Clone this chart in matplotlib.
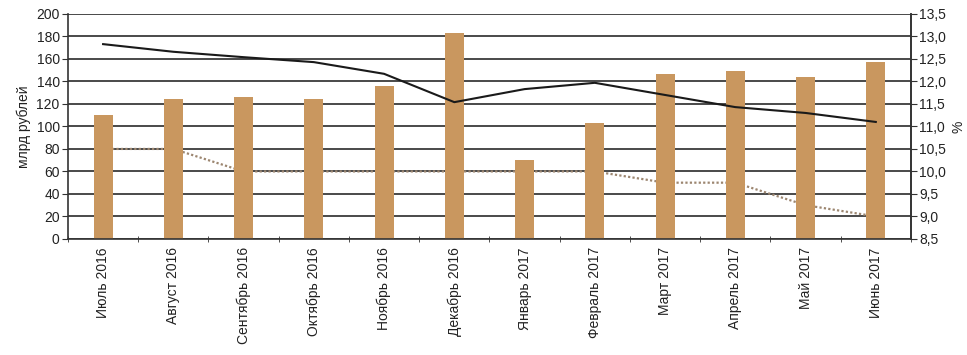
import matplotlib
matplotlib.use("Agg")
import matplotlib.pyplot as plt
import numpy as np

plt.rcParams['font.family'] = ['Liberation Sans', 'DejaVu Sans']

months = ["Июль 2016", "Август 2016", "Сентябрь 2016", "Октябрь 2016", "Ноябрь 2016",
          "Декабрь 2016", "Январь 2017", "Февраль 2017", "Март 2017", "Апрель 2017",
          "Май 2017", "Июнь 2017"]
volume_bln = [110, 124, 126, 124, 136, 183, 70, 103, 147, 149, 144, 157]
rate_pct = [12.83, 12.66, 12.54, 12.43, 12.17, 11.54, 11.83, 11.97, 11.70, 11.43, 11.30, 11.10]
key_rate_pct = [10.5, 10.5, 10.0, 10.0, 10.0, 10.0, 10.0, 10.0, 9.75, 9.75, 9.25, 9.0]

fig = plt.figure(figsize=(9.67, 3.55), dpi=100)
rect = [0.0703, 0.327, 0.8717, 0.6336]
x = np.arange(len(months))

# bottom layer: grid + dotted key-rate line (behind bars)
axd = fig.add_axes(rect, zorder=0)
axd.set_xlim(-0.5, len(months) - 0.5)
axd.set_ylim(8.5, 13.5)
axd.set_yticks(np.arange(8.5, 13.51, 0.5))
axd.grid(axis='y', color='#3a3a3a', linewidth=1.3)
axd.set_axisbelow(True)
axd.plot(x, key_rate_pct, linestyle=(0, (1, 1)), color='#9C8670', linewidth=1.6, zorder=3)
axd.set_xticks([])
axd.tick_params(axis='y', left=False, labelleft=False)
for s in axd.spines.values():
    s.set_visible(False)

# middle layer: bars, left axis
ax = fig.add_axes(rect, zorder=1)
ax.patch.set_visible(False)
ax.bar(x, volume_bln, width=0.27, color='#C9975F', zorder=2)
ax.set_ylim(0, 200)
ax.set_yticks(np.arange(0, 201, 20))
ax.set_xlim(-0.5, len(months) - 0.5)
ax.set_xticks(x)
ax.set_xticklabels(months, rotation=90, fontsize=10, color='#222222')
ax.tick_params(axis='x', which='major', length=0, pad=6)
ax.set_xticks(np.arange(-0.5, len(months), 1), minor=True)
ax.tick_params(axis='x', which='minor', length=4, direction='inout', color='#333333')
ax.tick_params(axis='y', labelsize=10, length=4, color='#333333', labelcolor='#222222', pad=2)
ax.set_ylabel("млрд рублей", fontsize=10, color='#222222', labelpad=4)
ax.spines['top'].set_visible(False)
for s in ['left', 'bottom', 'right']:
    ax.spines[s].set_color('#333333')
    ax.spines[s].set_linewidth(1.2)

# top layer: black rate line, right axis
ax2 = fig.add_axes(rect, zorder=2)
ax2.patch.set_visible(False)
ax2.set_xlim(-0.5, len(months) - 0.5)
ax2.set_xticks([])
ax2.yaxis.tick_right()
ax2.yaxis.set_label_position('right')
ax2.set_ylim(8.5, 13.5)
ax2.set_yticks(np.arange(8.5, 13.51, 0.5))
ax2.set_yticklabels([f"{v:.1f}".replace('.', ',') for v in np.arange(8.5, 13.51, 0.5)])
ax2.tick_params(axis='y', labelsize=10, length=4, color='#333333', labelcolor='#222222', pad=2)
ax2.plot(x, rate_pct, color='#1a1a1a', linewidth=1.5, zorder=4)
ax2.set_ylabel("%", fontsize=10, color='#222222', labelpad=4)
for s in ['top', 'left', 'bottom']:
    ax2.spines[s].set_visible(False)
ax2.spines['right'].set_color('#333333')
ax2.spines['right'].set_linewidth(1.2)

fig.savefig("out.png", dpi=100)
